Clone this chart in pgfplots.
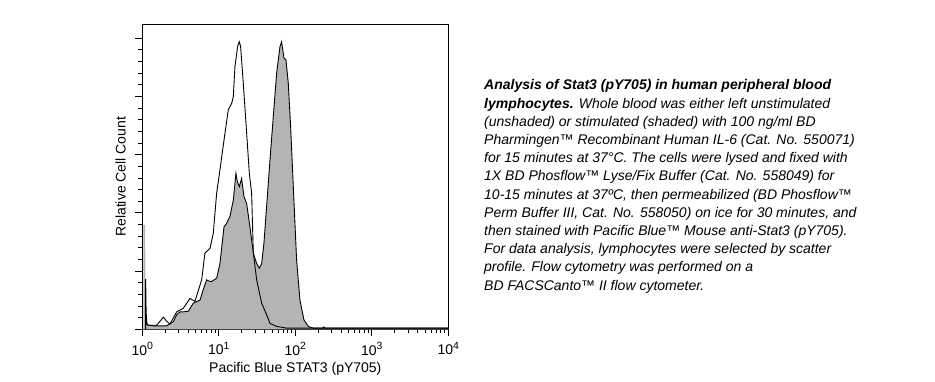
\documentclass[border=0pt]{standalone}
\usepackage{fontspec}
\setmainfont{Liberation Sans}
\usepackage{pgfplots}
\pgfplotsset{compat=1.18}
\definecolor{shade}{RGB}{180,180,180}
\newcommand{\tp}[1]{10\raisebox{0.42em}{\fontsize{10.5}{11}\selectfont #1}}
\pgfplotstableread{
l y
0.000 0.00
0.015 0.00
0.015 1.79
0.038 1.79
0.040 0.10
0.045 0.00
}\spike
\pgfplotstableread{
l y
0.040 0.10
0.078 0.07
0.144 0.06
0.318 0.06
0.405 0.13
0.450 0.25
0.492 0.30
0.536 0.30
0.601 0.31
0.667 0.45
0.754 0.50
0.797 0.68
0.841 0.85
0.870 0.83
0.906 0.82
0.972 0.88
1.015 1.13
1.068 1.76
1.102 1.82
1.146 1.94
1.190 2.22
1.224 2.68
1.242 2.54
1.268 2.45
1.298 2.59
1.329 2.28
1.364 2.16
1.407 1.76
1.451 1.31
1.495 1.13
1.529 1.05
1.560 1.13
1.590 1.48
1.625 2.11
1.669 2.91
1.712 3.65
1.756 4.40
1.800 4.86
1.821 4.94
1.852 4.66
1.878 4.63
1.908 4.23
1.939 3.48
1.974 2.45
2.017 1.19
2.061 0.50
2.113 0.16
2.170 0.05
2.235 0.02
2.360 0.02
2.370 0.04
2.390 0.02
4.000 0.02
}\stim
\pgfplotstableread{
l y
0.044 0.00
0.044 0.86
0.050 0.30
0.060 0.10
0.078 0.07
0.187 0.07
0.240 0.15
0.275 0.21
0.310 0.15
0.362 0.09
0.449 0.30
0.536 0.36
0.623 0.53
0.688 0.48
0.776 0.85
0.819 1.31
0.885 1.39
0.928 1.65
0.972 2.34
1.015 2.74
1.068 3.25
1.124 3.77
1.168 3.88
1.190 4.00
1.211 4.51
1.246 4.86
1.268 4.94
1.285 4.86
1.320 4.23
1.364 3.37
1.399 2.68
1.429 2.34
1.451 1.31
1.495 0.85
1.560 0.45
1.625 0.25
1.669 0.10
1.756 0.05
1.887 0.02
4.000 0.02
}\unstim
\begin{document}
\begin{tikzpicture}[x=1pt,y=1pt]
\path[use as bounding box] (0,0) rectangle (935,382);
\begin{axis}[
  at={(142.3pt,52.7pt)}, anchor=south west,
  scale only axis, width=306pt, height=305pt,
  xmin=0, xmax=4, ymin=0, ymax=5.24,
  axis line style={line width=0.9pt},
  tick style={line width=0.9pt, black},
  tick align=outside,
  xtick pos=bottom, ytick pos=left,
  major tick length=7pt, minor tick length=4pt,
  xtick={0,1,2,3,4},
  xticklabels={\tp{0},\tp{1},\tp{2},\tp{3},\tp{4}},
  minor xtick={0.301,0.477,0.602,0.699,0.778,0.845,0.903,0.954,
    1.301,1.477,1.602,1.699,1.778,1.845,1.903,1.954,
    2.301,2.477,2.602,2.699,2.778,2.845,2.903,2.954,
    3.301,3.477,3.602,3.699,3.778,3.845,3.903,3.954},
  ytick={0,1,2,3,4,5}, yticklabels={},
  minor y tick num=4,
  ticklabel style={font=\fontsize{14}{16}\selectfont},
  xticklabel style={yshift=-2pt},
  xlabel={Pacific Blue STAT3 (pY705)},
  ylabel={Relative Cell Count},
  label style={font=\fontsize{14}{16}\selectfont},
  xlabel style={at={(axis description cs:0.5,0)}, anchor=center, yshift=-40pt},
  ylabel style={at={(axis description cs:0,0.5)}, anchor=center, yshift=21.6pt},
  clip=true,
]
\addplot[fill=shade, draw=none] table[x=l,y=y] {\spike} \closedcycle;
\addplot[fill=shade, draw=none] table[x=l,y=y] {\stim} \closedcycle;
\addplot[black, line width=0.9pt] table[x=l,y=y] {\stim};
\addplot[black, line width=0.9pt] table[x=l,y=y] {\unstim};
\end{axis}
\begin{scope}[every node/.style={anchor=base west, inner sep=0pt, font=\fontsize{14}{18}\selectfont\itshape}]
\node at (484,292.0) {\bfseries Analysis of Stat3 (pY705) in human peripheral blood};
\node at (484,273.8) {{\bfseries lymphocytes.} Whole blood was either left unstimulated};
\node at (484,255.6) {(unshaded) or stimulated (shaded) with 100 ng/ml BD};
\node at (484,237.4) {Pharmingen™ Recombinant Human IL-6 (Cat. No. 550071)};
\node at (484,219.2) {for 15 minutes at 37°C. The cells were lysed and fixed with};
\node at (484,201.0) {1X BD Phosflow™ Lyse/Fix Buffer (Cat. No. 558049) for};
\node at (484,182.8) {10-15 minutes at 37ºC, then permeabilized (BD Phosflow™};
\node at (484,164.6) {Perm Buffer III, Cat. No. 558050) on ice for 30 minutes, and};
\node at (484,146.4) {then stained with Pacific Blue™ Mouse anti-Stat3 (pY705).};
\node at (484,128.2) {For data analysis, lymphocytes were selected by scatter};
\node at (484,110.0) {profile. Flow cytometry was performed on a};
\node at (484,91.8) {BD FACSCanto™ II flow cytometer.};
\end{scope}
\end{tikzpicture}
\end{document}
